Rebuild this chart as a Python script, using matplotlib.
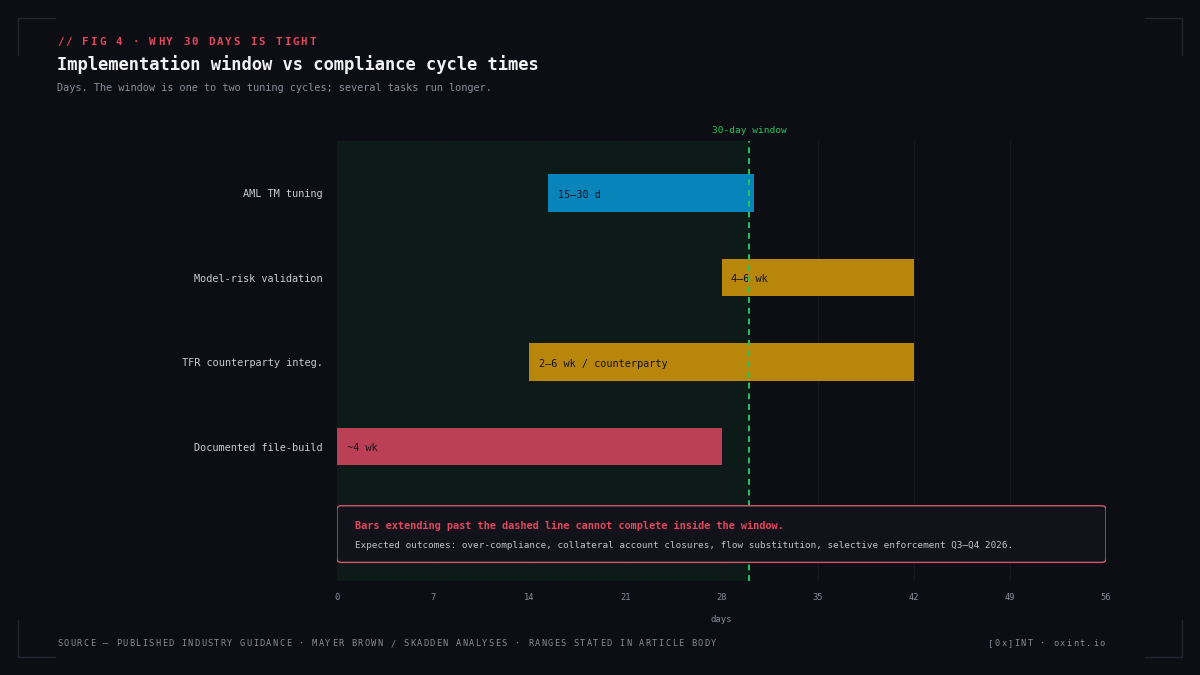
#!/usr/bin/env python3
"""
Implementation window vs compliance cycle times (dark gantt-style range chart).
"""

import matplotlib
matplotlib.use("Agg")
import matplotlib.pyplot as plt
from matplotlib.patches import FancyBboxPatch
from matplotlib.lines import Line2D

# Data
tasks = ["AML TM tuning", "Model-risk validation", "TFR counterparty integ.", "Documented file-build"]
start_days = [15.4, 28, 14, 0]
end_days = [30.4, 42, 42, 28]
range_labels = ["15\u201330 d", "4\u20136 wk", "2\u20136 wk / counterparty", "~4 wk"]
bar_colors = ["#0784ba", "#b8860b", "#b8860b", "#bb4055"]
window_days = 30
x_ticks = [0, 7, 14, 21, 28, 35, 42, 49, 56]

# Styling
BG = "#0d0d14"
SHADE = "#0c1a18"
GRID = "#17181f"
MUTED = "#8b8b98"
LABEL = "#c9c9d2"
RED = "#e2475d"
GREEN = "#22c55e"
MONO = "DejaVu Sans Mono"

W, H = 1200, 675

fig = plt.figure(figsize=(12, 6.75), dpi=100, facecolor=BG)
ax = fig.add_axes([337 / W, 1 - 581 / H, (1106 - 337) / W, (581 - 141) / H])
ax.set_facecolor(BG)


def spaced(x_px, y_px, text, advance, **kw):
    """Draw text one character at a time to fake letter spacing."""
    for i, ch in enumerate(text):
        fig.text((x_px + i * advance) / W, 1 - y_px / H, ch,
                 ha="left", va="center", family=MONO, **kw)


# Shaded window and grid
ax.axvspan(0, window_days, color=SHADE, zorder=0)
for t in x_ticks[1:]:
    ax.axvline(t, color=GRID, lw=0.8, zorder=1)

# Bars
y_pos = list(range(len(tasks)))
widths = [e - s for s, e in zip(start_days, end_days)]
ax.barh(y_pos, widths, left=start_days, height=0.44, color=bar_colors, zorder=3)
for y, s, lab in zip(y_pos, start_days, range_labels):
    ax.text(s + 0.7, y + 0.02, lab, ha="left", va="center", family=MONO,
            fontsize=7.4, color="#14141a", zorder=4)

# 30-day line
ax.axvline(window_days, color=GREEN, lw=1.4, ls=(0, (3, 2.5)), zorder=5)
ax.annotate("30-day window", xy=(window_days, 1), xycoords=("data", "axes fraction"),
            xytext=(0, 4), textcoords="offset points", ha="center", va="bottom",
            family=MONO, fontsize=6.8, color=GREEN)

# Callout box
box = FancyBboxPatch((0, 3.70), 56, 0.67,
                     boxstyle="round,pad=0,rounding_size=0.3",
                     mutation_aspect=13.73 / 84.5,
                     facecolor="#12121b", edgecolor="#d4566b", lw=1.0, zorder=6)
ax.add_patch(box)
ax.text(1.3, 3.94, "Bars extending past the dashed line cannot complete inside the window.",
        ha="left", va="center", family=MONO, fontsize=7.4, fontweight="bold",
        color=RED, zorder=7)
ax.text(1.3, 4.17, "Expected outcomes: over-compliance, collateral account closures, "
        "flow substitution, selective enforcement Q3\u2013Q4 2026.",
        ha="left", va="center", family=MONO, fontsize=6.7, color="#c4c4cc", zorder=7)

# Axes
ax.set_xlim(0, 56)
ax.set_ylim(4.59, -0.615)
ax.set_xticks(x_ticks)
ax.set_xticklabels([str(t) for t in x_ticks], family=MONO, fontsize=6.3, color=MUTED)
ax.set_yticks(y_pos)
ax.set_yticklabels(tasks, family=MONO, fontsize=7.4, color=LABEL)
ax.tick_params(axis="both", length=0)
ax.tick_params(axis="x", pad=9)
ax.tick_params(axis="y", pad=10)
ax.set_xlabel("days", family=MONO, fontsize=6.5, color=MUTED, labelpad=9)
for sp in ax.spines.values():
    sp.set_visible(False)

# Header
spaced(57, 42, "// FIG 4 \u00b7 WHY 30 DAYS IS TIGHT", 8.4, fontsize=7.8,
       fontweight="bold", color=RED)
fig.text(57 / W, 1 - 65 / H, "Implementation window vs compliance cycle times",
         ha="left", va="center", family=MONO, fontsize=12.3, fontweight="bold",
         color="#f2f2f5")
fig.text(57 / W, 1 - 88 / H,
         "Days. The window is one to two tuning cycles; several tasks run longer.",
         ha="left", va="center", family=MONO, fontsize=7.4, color=MUTED)

# Footer
spaced(57, 644, "SOURCE \u2014 PUBLISHED INDUSTRY GUIDANCE \u00b7 MAYER BROWN / SKADDEN "
       "ANALYSES \u00b7 RANGES STATED IN ARTICLE BODY", 6.54, fontsize=6.2, color=MUTED)
right_txt = "[0x]INT \u00b7 oxint.io"
spaced(1106 - len(right_txt) * 6.55, 644, right_txt, 6.55, fontsize=6.2, color=MUTED)

# Corner brackets
c = "#24242e"
L = 37
for (x0, y0, dx, dy) in [(18, 18, 1, 1), (1182, 18, -1, 1), (18, 657, 1, -1), (1182, 657, -1, -1)]:
    fig.add_artist(Line2D([x0 / W, (x0 + dx * L) / W], [1 - y0 / H, 1 - y0 / H],
                          color=c, lw=1.0))
    fig.add_artist(Line2D([x0 / W, x0 / W], [1 - y0 / H, 1 - (y0 + dy * L) / H],
                          color=c, lw=1.0))

fig.savefig("out.png", dpi=100, facecolor=BG)
plt.close(fig)
